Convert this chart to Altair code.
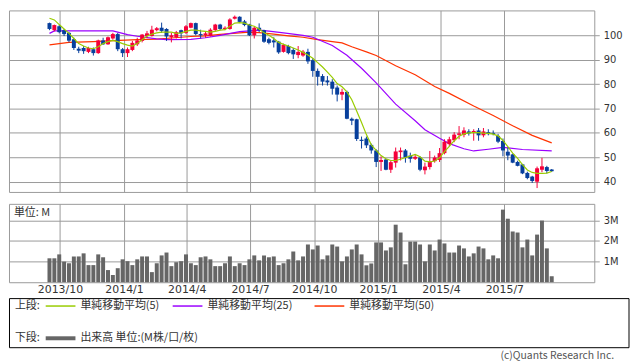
import altair as alt
import pandas as pd

# ---------------- data (weekly candles) ----------------
start_week = "2013-09-16"
open_ = [105.0, 102.1, 103.7, 102.1, 101.0, 98.4, 94.5, 94.8, 93.2, 94.3,
         92.7, 97.9, 96.3, 98.7, 100.5, 94.3, 92.7, 94.0, 96.3, 97.7,
         99.7, 99.7, 102.1, 103.1, 102.6, 99.2, 99.2, 102.1, 101.0, 103.1,
         105.0, 100.5, 100.0, 99.7, 102.1, 104.4, 102.6, 102.6, 106.8, 107.6,
         105.7, 104.4, 100.0, 103.1, 102.1, 98.4, 97.9, 97.4, 93.2, 95.6,
         94.0, 91.9, 91.7, 93.2, 89.8, 85.4, 83.3, 81.5, 81.0, 78.6,
         75.7, 76.8, 65.8, 65.6, 57.2, 57.7, 55.1, 52.8, 48.1, 49.1,
         44.9, 47.8, 52.1, 52.8, 50.7, 49.4, 49.9, 44.7, 46.0, 48.4,
         48.9, 51.7, 55.4, 57.0, 59.2, 59.2, 60.6, 60.3, 61.0, 59.0,
         60.3, 60.0, 58.8, 56.7, 52.3, 51.2, 48.1, 47.1, 43.6, 42.1,
         40.0, 44.9, 46.0, 45.0]
close = [102.6, 104.2, 101.3, 100.5, 97.8, 94.8, 93.7, 93.5, 94.8, 92.7,
         97.9, 96.3, 99.2, 100.5, 94.3, 92.7, 94.3, 96.9, 97.9, 100.3,
         100.8, 102.3, 102.9, 101.8, 99.5, 100.0, 101.3, 100.8, 103.7, 105.0,
         100.5, 100.0, 100.8, 102.3, 104.4, 102.6, 103.1, 106.5, 107.6, 105.5,
         104.2, 100.0, 103.1, 102.1, 97.4, 96.9, 97.1, 93.0, 96.1, 92.7,
         92.2, 93.2, 93.3, 89.3, 85.4, 83.0, 81.0, 80.7, 78.1, 75.7,
         76.8, 65.8, 65.0, 57.5, 56.7, 54.9, 52.8, 48.1, 48.9, 44.9,
         48.0, 52.4, 52.8, 49.9, 49.4, 50.2, 44.9, 46.2, 48.4, 49.9,
         51.7, 56.4, 57.4, 59.3, 59.8, 61.0, 59.8, 60.8, 59.0, 60.6,
         59.5, 59.6, 56.4, 52.8, 50.7, 47.8, 46.5, 43.4, 41.5, 40.3,
         45.5, 46.3, 44.4, 44.3]
high = [105.2, 104.4, 104.2, 102.6, 101.3, 99.0, 95.3, 95.6, 95.3, 95.0,
        98.2, 99.0, 99.5, 101.0, 101.0, 94.8, 95.0, 97.7, 99.0, 100.5,
        101.8, 103.9, 103.4, 105.2, 102.9, 101.0, 101.8, 102.3, 104.2, 105.2,
        105.2, 102.3, 101.6, 102.9, 104.7, 104.7, 103.7, 107.0, 108.1, 107.8,
        106.3, 104.7, 103.7, 104.9, 102.3, 99.0, 99.2, 97.7, 96.6, 96.1,
        94.8, 95.6, 94.0, 94.5, 90.6, 86.4, 84.1, 83.3, 82.0, 79.4,
        78.1, 77.3, 66.3, 65.8, 58.5, 58.5, 55.6, 53.3, 50.4, 49.4,
        48.5, 54.0, 54.0, 53.4, 51.9, 51.2, 50.4, 47.8, 52.6, 50.7,
        53.8, 57.4, 58.4, 60.3, 62.8, 62.3, 61.5, 61.5, 62.0, 62.0,
        61.5, 61.0, 59.6, 57.7, 54.1, 51.5, 48.6, 47.3, 44.1, 42.4,
        46.2, 49.8, 46.5, 45.2]
low = [102.1, 101.6, 100.8, 99.7, 97.1, 94.0, 92.7, 92.4, 92.7, 91.7,
       92.4, 96.1, 96.1, 98.2, 93.5, 91.1, 91.1, 93.5, 95.6, 97.1,
       99.0, 99.5, 101.6, 101.0, 97.7, 97.1, 98.7, 98.7, 100.5, 102.9,
       100.0, 98.7, 99.0, 99.5, 101.8, 102.1, 102.1, 102.3, 106.5, 105.0,
       103.7, 99.7, 98.7, 101.3, 96.9, 96.3, 95.0, 92.4, 92.9, 92.2,
       90.3, 90.6, 91.2, 88.3, 83.0, 79.4, 79.4, 79.4, 75.7, 72.9,
       73.4, 65.6, 63.2, 56.7, 53.6, 53.8, 51.5, 46.0, 44.4, 44.7,
       43.6, 45.8, 48.7, 47.8, 47.8, 48.9, 44.3, 43.0, 45.0, 47.8,
       48.1, 51.2, 54.6, 56.2, 57.4, 58.2, 58.9, 56.8, 56.8, 58.2,
       59.0, 59.0, 55.8, 50.4, 48.8, 47.6, 46.3, 43.1, 41.0, 39.5,
       37.4, 43.9, 43.4, 44.0]
volume_m = [1.16, 1.16, 1.35, 1.00, 0.92, 1.25, 1.25, 1.40, 0.83, 0.83,
            1.35, 1.21, 0.59, 0.35, 0.68, 1.11, 1.02, 0.83, 1.11, 1.25,
            1.25, 0.49, 0.92, 1.30, 1.44, 0.78, 0.97, 1.02, 1.35, 0.92,
            0.83, 1.21, 1.25, 1.11, 0.78, 0.78, 0.92, 1.25, 0.78, 0.92,
            0.83, 1.11, 1.30, 1.06, 1.30, 1.21, 1.25, 0.83, 0.92, 1.11,
            1.49, 1.06, 1.25, 1.83, 1.59, 1.78, 1.11, 1.30, 1.83, 1.73,
            1.01, 1.25, 1.59, 1.83, 1.35, 0.82, 0.91, 1.93, 1.93, 1.54,
            1.69, 2.79, 2.41, 0.87, 1.97, 1.97, 1.83, 1.01, 1.83, 1.54,
            2.07, 1.88, 1.44, 1.44, 1.78, 1.64, 1.25, 1.40, 1.73, 1.64,
            1.11, 1.30, 1.16, 3.52, 3.08, 2.46, 2.41, 1.69, 2.07, 1.30,
            2.31, 2.99, 1.64, 0.29]

# moving averages as drawn
ma5 = [107.0, 106.3, 104.4, 102.6, 100.8, 98.7, 96.6, 95.6, 94.8, 94.5,
       95.3, 96.6, 97.4, 97.9, 97.4, 96.6, 96.0, 95.6, 96.6, 98.2,
       99.7, 100.5, 101.0, 101.3, 101.3, 101.3, 100.8, 101.0, 101.6, 102.1,
       102.1, 101.8, 101.6, 101.3, 101.6, 102.1, 102.3, 103.7, 105.0, 105.2,
       105.0, 104.2, 103.7, 102.6, 101.0, 100.0, 98.7, 97.1, 96.3, 95.6,
       94.8, 94.0, 93.0, 91.9, 90.6, 88.8, 87.0, 84.9, 82.8, 80.2,
       78.9, 76.8, 73.6, 69.0, 64.3, 59.3, 55.1, 52.8, 50.7, 49.4,
       48.7, 48.7, 49.2, 49.9, 50.5, 51.2, 50.2, 48.4, 48.1, 48.5,
       49.8, 52.3, 54.5, 56.8, 58.6, 59.6, 60.0, 60.1, 60.1, 59.9,
       59.8, 59.5, 58.8, 56.9, 54.4, 51.7, 49.6, 47.0, 44.8, 43.8,
       43.4, 43.4, 43.5, 44.2]
ma25_week = [0, 1, 13, 15, 16, 18, 22, 24, 29, 32, 35, 39, 43, 45, 48, 50, 52,
             54, 58, 61, 64, 67, 71, 75, 77, 80, 82, 85, 87, 90, 93, 97, 103]
ma25_val = [100.8, 101.8, 101.8, 100.8, 100.3, 99.6, 98.5, 98.2, 98.3, 99.0,
            100.0, 101.5, 102.1, 101.7, 101.0, 100.5, 100.0, 99.2, 95.8, 91.8,
            86.5, 80.5, 71.8, 65.0, 61.3, 57.8, 55.6, 53.5, 52.6, 53.3, 54.1,
            53.2, 52.6]
ma50_week = [0, 2, 4, 9, 12, 18, 22, 25, 29, 32, 35, 39, 41, 43, 46, 49, 52,
             55, 58, 60, 62, 65, 67, 71, 75, 79, 82, 87, 91, 95, 99, 103]
ma50_val = [96.1, 96.6, 97.1, 97.4, 97.7, 98.2, 98.4, 98.9, 99.5, 99.8, 100.4,
            101.0, 101.3, 101.1, 100.5, 99.8, 99.2, 98.2, 97.4, 96.9, 95.3,
            93.2, 91.7, 87.5, 83.8, 79.0, 76.2, 71.0, 67.1, 62.9, 59.0, 55.9]

quarter_ticks = [(2013, 10), (2014, 1), (2014, 4), (2014, 7), (2014, 10),
                 (2015, 1), (2015, 4), (2015, 7)]
price_ticks = [40, 50, 60, 70, 80, 90, 100]
volume_ticks = [1, 2, 3]

# ---------------- tables ----------------
start = pd.Timestamp(start_week)
dates = [(start + pd.Timedelta(days=7 * i)).strftime("%Y-%m-%d") for i in range(len(close))]
df = pd.DataFrame({"date": dates, "open": open_, "close": close,
                   "high": high, "low": low, "vol": volume_m, "ma5": ma5})
ma25_df = pd.DataFrame({"date": [dates[i] for i in ma25_week], "v": ma25_val})
ma50_df = pd.DataFrame({"date": [dates[i] for i in ma50_week], "v": ma50_val})
one = pd.DataFrame({"k": [0]})

RED = "#f5003a"
BLUE = "#073f9c"
C5 = "#99cc00"
C25 = "#9b00ff"
C50 = "#ff3300"
GRID = "#9a9a9a"
NUMFONT = "DejaVu Sans"
JP = "Noto Sans CJK JP"

W = 590
H_UP = 183
H_LOW = 79

xscale = alt.Scale(type="utc", domain=[alt.DateTime(year=2013, month=7, date=27, utc=True),
                                      alt.DateTime(year=2015, month=10, date=31, utc=True)])
qvals = [alt.DateTime(year=y, month=m, date=1, utc=True) for y, m in quarter_ticks]

x_up = alt.X("date:T", scale=xscale,
             axis=alt.Axis(values=qvals, labels=False, ticks=False, domain=False,
                           grid=True, gridColor=GRID, title=None))
yscale_up = alt.Scale(domain=[35.8, 110.2], nice=False, zero=False)
axis_up = alt.Axis(orient="right", values=price_ticks, title=None, domain=False,
                   grid=True, gridColor=GRID, tickColor=GRID, tickSize=5,
                   labelPadding=4, labelFont=NUMFONT, labelFontSize=10,
                   labelColor="#333333")

cond = alt.condition("datum.close >= datum.open", alt.value(RED), alt.value(BLUE))

wicks = alt.Chart(df).mark_rule(strokeWidth=1).encode(
    x=x_up, y=alt.Y("low:Q", scale=yscale_up, axis=axis_up), y2="high:Q", color=cond)
bodies = alt.Chart(df).mark_bar(size=4).encode(
    x=x_up, y=alt.Y("open:Q", scale=yscale_up, axis=axis_up), y2="close:Q", color=cond)
line5 = alt.Chart(df).mark_line(color=C5, strokeWidth=1.2).encode(
    x=x_up, y=alt.Y("ma5:Q", scale=yscale_up, axis=axis_up))
line25 = alt.Chart(ma25_df).mark_line(color=C25, strokeWidth=1.2).encode(
    x=x_up, y=alt.Y("v:Q", scale=yscale_up, axis=axis_up))
line50 = alt.Chart(ma50_df).mark_line(color=C50, strokeWidth=1.2).encode(
    x=x_up, y=alt.Y("v:Q", scale=yscale_up, axis=axis_up))

upper = alt.layer(line50, line25, wicks, bodies, line5).properties(width=W, height=H_UP)

# ---------------- lower panel ----------------
x_low = alt.X("date:T", scale=xscale,
              axis=alt.Axis(values=qvals, ticks=False, domain=False, grid=True,
                            gridColor=GRID, title=None, labelFlush=False,
                            labelOverlap=False, labelPadding=1,
                            labelExpr="utcFormat(datum.value, '%Y/%-m')",
                            labelFont=NUMFONT, labelFontSize=11,
                            labelColor="#333333"))
vol_bars = alt.Chart(df).mark_bar(size=4, color="#666666").encode(
    x=x_low,
    y=alt.Y("vol:Q", scale=alt.Scale(domain=[0, 3.8], nice=False),
            axis=alt.Axis(orient="right", values=volume_ticks, title=None,
                          domain=False, grid=True, gridColor=GRID, tickColor=GRID,
                          tickSize=5, labelPadding=4, labelFont=NUMFONT,
                          labelFontSize=10, labelColor="#333333",
                          labelExpr="datum.value + 'M'")))


def txt(s, x, y, align="left", color="#333333", size=11):
    return alt.Chart(one).mark_text(align=align, baseline="middle", font=JP,
                                    fontSize=size, color=color).encode(
        x=alt.value(x), y=alt.value(y), text=alt.value(s))


def seg(x1, x2, y, color, width):
    return alt.Chart(one).mark_rule(color=color, strokeWidth=width).encode(
        x=alt.value(x1), x2=alt.value(x2), y=alt.value(y))


box = alt.Chart(one).mark_rect(fill="white", stroke="#000000", strokeWidth=1).encode(
    x=alt.value(0.5), x2=alt.value(625), y=alt.value(95.5), y2=alt.value(145))

ROW1 = 103
ROW2 = 135.5
lower = alt.layer(
    vol_bars,
    txt("単位: M", 5, 9),
    box,
    txt("上段:", 6, ROW1),
    seg(37, 67, ROW1, C5, 1.5),
    txt("単純移動平均(5)", 72, ROW1),
    seg(165, 195, ROW1, C25, 1.5),
    txt("単純移動平均(25)", 200, ROW1),
    seg(308, 338, ROW1, C50, 1.5),
    txt("単純移動平均(50)", 343, ROW1),
    txt("下段:", 6, ROW2),
    seg(37, 67, ROW2, "#666666", 4),
    txt("出来高 単位:(M株/口/枚)", 72, ROW2),
    txt("(c)Quants Research Inc.", 610, 153.5, align="right", color="#555555", size=10.5),
).properties(width=W, height=H_LOW)

chart = alt.vconcat(upper, lower, spacing=10).properties(
    padding=0, background="white"
).configure_view(stroke=GRID, strokeWidth=1)

chart.save("out.html", embed_options={"renderer": "svg", "actions": False})
